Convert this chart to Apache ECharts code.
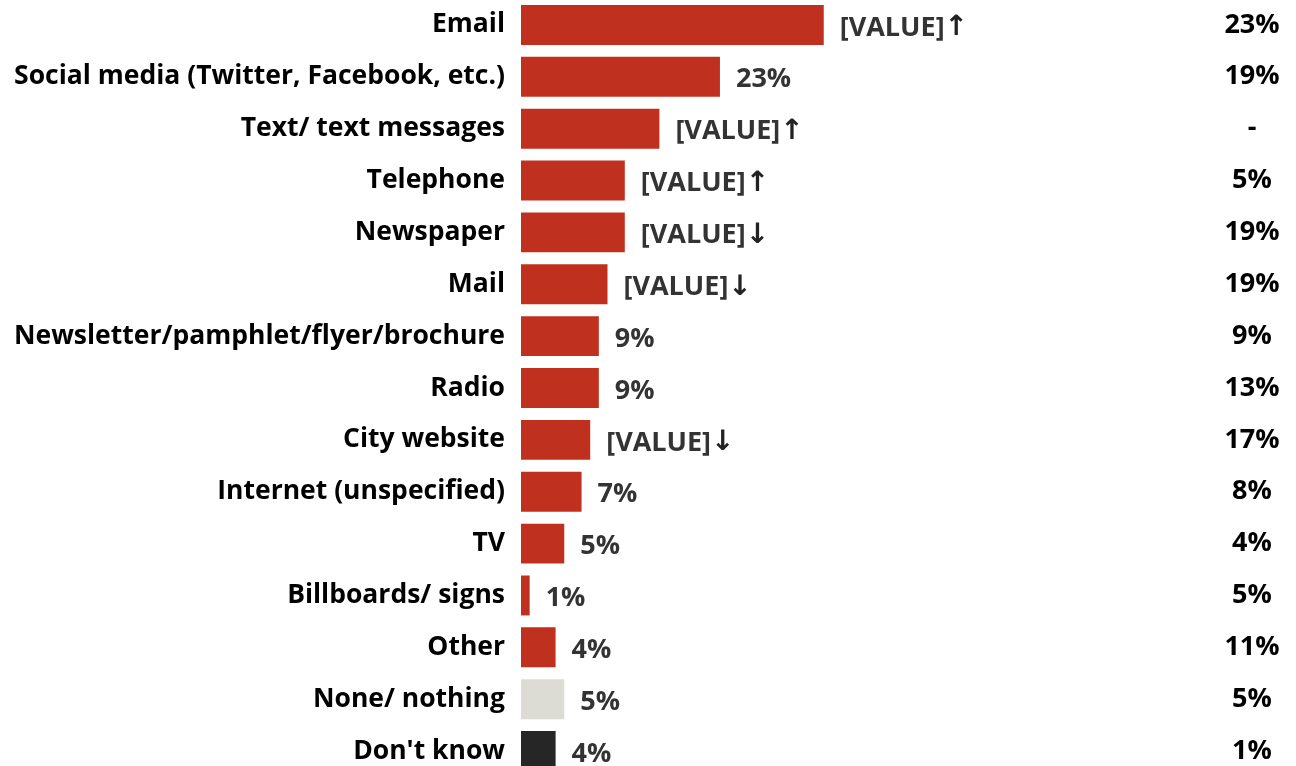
<!DOCTYPE html>
<html><head><meta charset="utf-8">
<script src="https://cdn.jsdelivr.net/npm/echarts@6/dist/echarts.min.js"></script>
<style>html,body{margin:0;padding:0;background:#fff}#c{width:1296px;height:766px}</style>
</head><body><div id="c"></div>
<script>
const categories = ["Email","Social media (Twitter, Facebook, etc.)","Text/ text messages","Telephone","Newspaper","Mail","Newsletter/pamphlet/flyer/brochure","Radio","City website","Internet (unspecified)","TV","Billboards/ signs","Other","None/ nothing","Don't know"];
const values = [35,23,16,12,12,10,9,9,8,7,5,1,4,5,4];
const valueLabels = ["[VALUE]","23%","[VALUE]","[VALUE]","[VALUE]","[VALUE]","9%","9%","[VALUE]","7%","5%","1%","4%","5%","4%"];
const arrows = ["\u2191","","\u2191","\u2191","\u2193","\u2193","","","\u2193","","","","","",""];
const compareLabels = ["23%","19%","-","5%","19%","19%","9%","13%","17%","8%","4%","5%","11%","5%","1%"];
const barColors = ["#C0301F","#C0301F","#C0301F","#C0301F","#C0301F","#C0301F","#C0301F","#C0301F","#C0301F","#C0301F","#C0301F","#C0301F","#C0301F","#DCDCD4","#262626"];

const chart = echarts.init(document.getElementById('c'));
const FONT = '"Open Sans", sans-serif';
chart.setOption({
  animation:false,
  grid:{left:521, width:692, top:-1, height:778, containLabel:false, outerBoundsMode:'none'},
  xAxis:{type:'value', min:0, max:80, show:false},
  yAxis:[{
    type:'category', inverse:true, data:categories,
    axisLine:{show:false}, axisTick:{show:false},
    axisLabel:{margin:16, color:'#000', fontFamily:FONT, fontWeight:'bold', fontSize:26.5, padding:[5,0,0,0]}
  },{
    type:'category', inverse:true, data:categories, position:'right',
    axisLine:{show:false}, axisTick:{show:false},
    axisLabel:{margin:39, align:'center', color:'#000', fontFamily:FONT, fontWeight:'bold', fontSize:27, padding:[5,0,0,0],
      formatter:(v,i)=>compareLabels[i]}
  }],
  series:[{
    type:'bar', barCategoryGap:'23%',
    data:values.map((v,i)=>({value:v, itemStyle:{color:barColors[i]}})),
    label:{show:true, position:'right', distance:16, offset:[0,3], color:'#333', fontFamily:FONT, fontWeight:'bold', fontSize:27,
      formatter:p=>valueLabels[p.dataIndex] + (arrows[p.dataIndex] ? '{a|' + arrows[p.dataIndex] + '}' : ''),
      rich:{a:{fontFamily:'"DejaVu Sans"', fontWeight:'bold', fontSize:28, color:'#222'}}}
  }]
});
</script></body></html>
